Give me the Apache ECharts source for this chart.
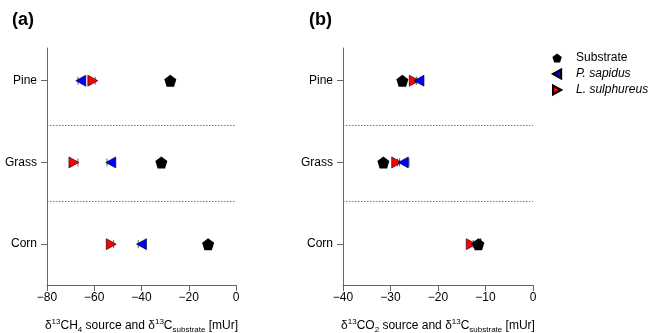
<!DOCTYPE html>
<html>
<head>
<meta charset="utf-8">
<script src="https://cdn.jsdelivr.net/npm/echarts@6/dist/echarts.min.js"></script>
<style>
  html, body { margin: 0; padding: 0; background: #fff; }
  #chart { width: 649px; height: 333px; }
</style>
</head>
<body>
<div id="chart"></div>
<script>
// y positions: Corn = 1, Grass = 2, Pine = 3
const categories = ["Corn", "Grass", "Pine"];
const separators = [1.527, 2.45];

// panel (a): d13CH4 source
const ch4Substrate = [-11.8, -31.6, -27.8];
const ch4SubstrateErr = [0.3, 0.3, 0.3];
const ch4Sapidus = [-40.0, -53.0, -65.7];
const ch4SapidusErr = [1.4, 1.6, 1.2];
const ch4Sulphureus = [-52.8, -68.6, -60.6];
const ch4SulphureusErr = [1.0, 1.7, 1.0];

// panel (b): d13CO2 source
const co2Substrate = [-11.5, -31.5, -27.5];
const co2SubstrateErr = [0.2, 0.2, 0.2];
const co2Sapidus = [-12.0, -27.3, -24.0];
const co2SapidusErr = [0.5, 1.2, 0.6];
const co2Sulphureus = [-13.0, -28.7, -25.0];
const co2SulphureusErr = [0.4, 0.6, 0.5];

const ch4Ticks = { min: -80, max: 0, interval: 20 };
const co2Ticks = { min: -40, max: 0, interval: 10 };

const FONT = "Liberation Sans, Arial, sans-serif";
const AXIS_GREY = "#666";
const ERR_GREY = "#6a6a6a";

const PENTAGON = "path://M0,-1 L0.951,-0.309 L0.588,0.809 L-0.588,0.809 L-0.951,-0.309 Z";
const TRI_LEFT = "path://M0,0 L1,-0.55 L1,0.55 Z";
const TRI_RIGHT = "path://M1,0 L0,-0.55 L0,0.55 Z";

function points(values) {
  return values.map((v, i) => [v, i + 1]);
}

function errRows(values, errs) {
  return values.map((v, i) => [v - errs[i], v + errs[i], i + 1]);
}

function renderErr(params, api) {
  const y = api.value(2);
  const a = api.coord([api.value(0), y]);
  const b = api.coord([api.value(1), y]);
  const h = 4;
  const style = { stroke: ERR_GREY, lineWidth: 1 };
  return {
    type: "group",
    children: [
      { type: "line", shape: { x1: a[0], y1: a[1], x2: b[0], y2: b[1] }, style },
      { type: "line", shape: { x1: a[0], y1: a[1] - h, x2: a[0], y2: a[1] + h }, style },
      { type: "line", shape: { x1: b[0], y1: b[1] - h, x2: b[0], y2: b[1] + h }, style },
    ],
  };
}

function minusFmt(v) {
  return v < 0 ? "\u2212" + Math.abs(v) : String(v);
}

const titleRich = {
  base: { fontFamily: FONT, fontSize: 12, color: "#000", lineHeight: 16 },
  sup: { fontFamily: FONT, fontSize: 8, color: "#000", verticalAlign: "top", lineHeight: 16, padding: [0, 0, 6, 0] },
  sub: { fontFamily: FONT, fontSize: 8, color: "#000", verticalAlign: "bottom", lineHeight: 16, padding: [5, 0, 0, 0] },
};

function xAxisFor(idx, ticks, name) {
  return {
    gridIndex: idx,
    type: "value",
    min: ticks.min,
    max: ticks.max,
    interval: ticks.interval,
    name,
    nameLocation: "middle",
    nameGap: 33,
    nameTextStyle: { rich: titleRich, fontFamily: FONT, fontSize: 12, color: "#000" },
    axisLine: { show: true, onZero: false, lineStyle: { color: AXIS_GREY, width: 1 } },
    axisTick: { show: true, length: 6, lineStyle: { color: AXIS_GREY } },
    axisLabel: { color: "#000", fontFamily: FONT, fontSize: 12, margin: 7, formatter: minusFmt },
    splitLine: { show: false },
  };
}

function yAxisFor(idx) {
  return {
    gridIndex: idx,
    type: "value",
    position: "left",
    min: 0.5,
    max: 3.4,
    axisLine: { show: true, onZero: false, lineStyle: { color: AXIS_GREY, width: 1 } },
    axisTick: { show: true, length: 6, customValues: [1, 2, 3], lineStyle: { color: AXIS_GREY } },
    axisLabel: {
      customValues: [1, 2, 3],
      color: "#000",
      fontFamily: FONT,
      fontSize: 12,
      margin: 10,
      formatter: (v) => categories[Math.round(v) - 1] || "",
    },
    splitLine: { show: false },
  };
}

function panelSeries(idx, sub, subErr, sap, sapErr, sul, sulErr) {
  const base = { xAxisIndex: idx, yAxisIndex: idx };
  return [
    {
      ...base,
      name: "errors" + idx,
      type: "custom",
      renderItem: renderErr,
      encode: { x: [0, 1], y: 2 },
      data: errRows(sub, subErr).concat(errRows(sap, sapErr), errRows(sul, sulErr)),
      silent: true,
      z: 1,
      markLine: {
        silent: true,
        symbol: "none",
        label: { show: false },
        lineStyle: { type: [1.5, 1.5], color: "#777", width: 1 },
        data: separators.map((v) => ({ yAxis: v })),
      },
    },
    {
      ...base,
      name: "L. sulphureus",
      type: "scatter",
      symbol: TRI_RIGHT,
      symbolSize: [10, 11],
      itemStyle: { color: "#ff0000", borderColor: "#000", borderWidth: 0.6, opacity: 1 },
      data: points(sul),
      z: 3,
    },
    {
      ...base,
      name: "P. sapidus",
      type: "scatter",
      symbol: TRI_LEFT,
      symbolSize: [10, 11],
      itemStyle: { color: "#0000ff", borderColor: "#000", borderWidth: 0.6, opacity: 1 },
      data: points(sap),
      z: 4,
    },
    {
      ...base,
      name: "Substrate",
      type: "scatter",
      symbol: PENTAGON,
      symbolSize: 12,
      itemStyle: { color: "#000", opacity: 1 },
      data: points(sub),
      z: 5,
    },
  ];
}

const chart = echarts.init(document.getElementById("chart"), null, { renderer: "canvas" });

chart.setOption({
  animation: false,
  backgroundColor: "#fff",
  textStyle: { fontFamily: FONT },
  grid: [
    { left: 47, right: 413, top: 48, bottom: 48, containLabel: false, outerBoundsMode: "none" },
    { left: 343, right: 116, top: 48, bottom: 48, containLabel: false, outerBoundsMode: "none" },
  ],
  graphic: [
    { type: "text", left: 12, top: 11, style: { text: "(a)", font: "bold 18px " + FONT, fill: "#000" } },
    { type: "text", left: 309, top: 11, style: { text: "(b)", font: "bold 18px " + FONT, fill: "#000" } },
  ],
  legend: {
    left: 547,
    top: 46,
    orient: "vertical",
    itemWidth: 10,
    itemHeight: 9,
    itemGap: 2,
    selectedMode: false,
    textStyle: {
      fontFamily: FONT,
      fontSize: 12,
      color: "#000",
      lineHeight: 14,
      padding: [0, 0, 0, 9],
      rich: { it: { fontStyle: "italic", fontFamily: FONT, fontSize: 12, color: "#000", lineHeight: 14 } },
    },
    formatter: (name) => (name === "Substrate" ? name : "{it|" + name + "}"),
    data: [
      { name: "Substrate", icon: PENTAGON },
      { name: "P. sapidus", icon: TRI_LEFT },
      { name: "L. sulphureus", icon: TRI_RIGHT },
    ],
  },
  xAxis: [
    xAxisFor(0, ch4Ticks, "{base|δ}{sup|13}{base|CH}{sub|4}{base| source and δ}{sup|13}{base|C}{sub|substrate}{base| [mUr]}"),
    xAxisFor(1, co2Ticks, "{base|δ}{sup|13}{base|CO}{sub|2}{base| source and δ}{sup|13}{base|C}{sub|substrate}{base| [mUr]}"),
  ],
  yAxis: [yAxisFor(0), yAxisFor(1)],
  series: [
    ...panelSeries(0, ch4Substrate, ch4SubstrateErr, ch4Sapidus, ch4SapidusErr, ch4Sulphureus, ch4SulphureusErr),
    ...panelSeries(1, co2Substrate, co2SubstrateErr, co2Sapidus, co2SapidusErr, co2Sulphureus, co2SulphureusErr),
  ],
});
</script>
</body>
</html>
